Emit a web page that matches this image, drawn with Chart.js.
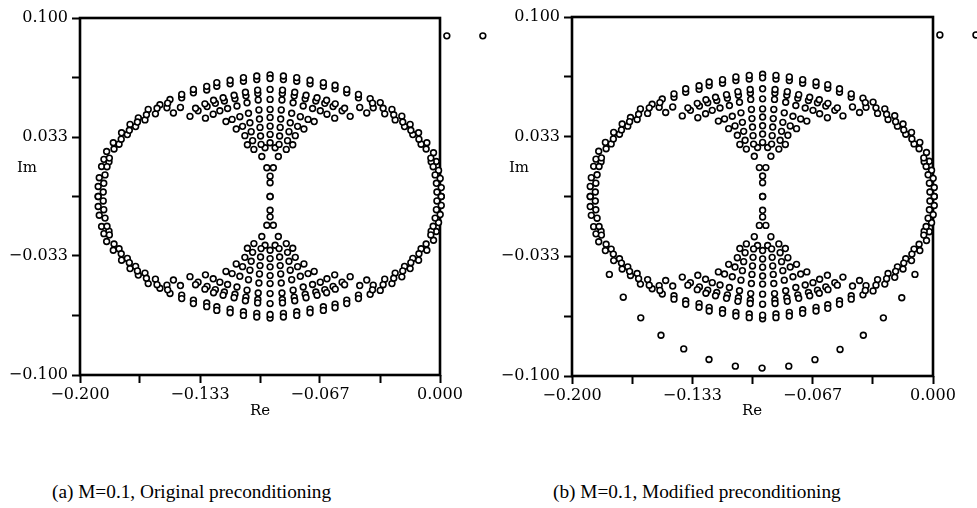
<!DOCTYPE html>
<html>
<head>
<meta charset="utf-8">
<script src="https://cdn.jsdelivr.net/npm/chart.js@4.4.1/dist/chart.umd.min.js"></script>
<style>
  html, body { margin: 0; padding: 0; background: #fff; }
  body { position: relative; width: 977px; height: 508px; overflow: hidden; font-family: "Liberation Serif", "DejaVu Serif", serif; }
  canvas { position: absolute; top: 0; }
  #plotA { left: 0; }
  #plotB { left: 490px; }
  .cap { position: absolute; top: 481px; font-size: 19.3px; line-height: 22px; color: #000; white-space: nowrap; }
</style>
</head>
<body>
<canvas id="plotA" width="490" height="440"></canvas>
<canvas id="plotB" width="487" height="440"></canvas>
<div class="cap" style="left:52px">(a) M=0.1, Original preconditioning</div>
<div class="cap" style="left:553px">(b) M=0.1, Modified preconditioning</div>
<script>
// Eigenvalues in the upper half-plane (Re, Im); each one appears with its
// complex conjugate, so the lower half is drawn from the same list.
const eigRe = [
  // central column and neck
  -0.0944,-0.0944,-0.0944,-0.0944,-0.0944,-0.0944,-0.0944,-0.0944,-0.0944,-0.0944,-0.0944,
  -0.0916,-0.0972,-0.0926,-0.0962,
  // close pairs on the outer arc
  -0.0944,-0.0870,-0.0796,-0.0722,-0.0648,-0.0583,-0.0518,-0.0453,-0.1018,-0.1092,-0.1166,-0.1240,-0.1296,-0.1370,-0.1435,
  // close pairs on the second arc
  -0.0876,-0.0810,-0.0749,-0.0690,-0.0640,-0.0594,-0.0544,-0.1012,-0.1078,-0.1139,-0.1198,-0.1248,-0.1294,-0.1344,
  // right-hand branches
  -0.0870,-0.0875,-0.0878,-0.0882,-0.0885,-0.0888,-0.0891,-0.0894,-0.0898,
  -0.0796,-0.0807,-0.0816,-0.0824,-0.0832,-0.0839,-0.0847,-0.0854,
  -0.0722,-0.0744,-0.0760,-0.0776,-0.0791,-0.0804,-0.0818,
  -0.0648,-0.0683,-0.0708,-0.0733,-0.0756,
  -0.0583,-0.0630,-0.0665,-0.0699,
  -0.0518,-0.0582,-0.0628,
  -0.0453,-0.0530,-0.0585,
  -0.0388,-0.0446,-0.0499,
  -0.0332,-0.0371,-0.0407,
  -0.0267,-0.0307,-0.0212,-0.0249,-0.0166,-0.0197,-0.0119,-0.0151,-0.0073,-0.0105,
  -0.0036,-0.0021,-0.0049,-0.0008,0.0001,0.0007,0.0007,
  // right-hand side of the outer ring, inner track
  -0.0375,-0.0316,-0.0257,-0.0207,-0.0162,-0.0117,-0.0077,-0.0051,-0.0038,-0.0027,-0.0020,-0.0017,
  // left-hand branches
  -0.1018,-0.1013,-0.1010,-0.1006,-0.1003,-0.1000,-0.0997,-0.0994,-0.0990,
  -0.1092,-0.1081,-0.1072,-0.1064,-0.1056,-0.1049,-0.1041,-0.1034,
  -0.1166,-0.1144,-0.1128,-0.1112,-0.1097,-0.1084,-0.1070,
  -0.1240,-0.1205,-0.1180,-0.1155,-0.1132,
  -0.1296,-0.1258,-0.1223,-0.1189,
  -0.1370,-0.1306,-0.1260,
  -0.1435,-0.1358,-0.1303,
  -0.1500,-0.1442,-0.1389,
  -0.1556,-0.1517,-0.1481,
  -0.1621,-0.1581,-0.1676,-0.1639,-0.1722,-0.1691,-0.1769,-0.1737,-0.1815,-0.1783,
  -0.1852,-0.1867,-0.1839,-0.1880,-0.1893,-0.1899,-0.1899,
  // left-hand side of the outer ring, inner track
  -0.1513,-0.1572,-0.1631,-0.1681,-0.1726,-0.1771,-0.1811,-0.1837,-0.1850,-0.1861,-0.1868,-0.1871
];
const eigIm = [
  0.0681,0.0600,0.0544,0.0488,0.0443,0.0394,0.0348,0.0301,0.0114,0.0077,0.0000,
  0.0273,0.0273,0.0161,0.0161,
  0.0661,0.0655,0.0646,0.0631,0.0618,0.0603,0.0581,0.0553,0.0655,0.0646,0.0631,0.0618,0.0597,0.0581,0.0553,
  0.0577,0.0564,0.0548,0.0535,0.0522,0.0504,0.0480,0.0577,0.0564,0.0548,0.0535,0.0522,0.0504,0.0480,
  0.0675,0.0596,0.0541,0.0485,0.0434,0.0387,0.0339,0.0292,0.0224,
  0.0666,0.0584,0.0525,0.0466,0.0413,0.0363,0.0313,0.0264,
  0.0651,0.0567,0.0507,0.0447,0.0393,0.0341,0.0290,
  0.0638,0.0553,0.0493,0.0432,0.0378,
  0.0623,0.0539,0.0480,0.0420,
  0.0600,0.0519,0.0461,
  0.0572,0.0494,0.0439,
  0.0548,0.0499,0.0449,
  0.0526,0.0497,0.0468,
  0.0488,0.0463,0.0450,0.0429,0.0404,0.0392,0.0357,0.0347,0.0301,0.0293,
  0.0245,0.0196,0.0194,0.0146,0.0101,0.0050,0.0000,
  0.0523,0.0494,0.0458,0.0417,0.0371,0.0321,0.0266,0.0215,0.0167,0.0121,0.0074,0.0025,
  0.0675,0.0596,0.0541,0.0485,0.0434,0.0387,0.0339,0.0292,0.0224,
  0.0666,0.0584,0.0525,0.0466,0.0413,0.0363,0.0313,0.0264,
  0.0651,0.0567,0.0507,0.0447,0.0393,0.0341,0.0290,
  0.0638,0.0553,0.0493,0.0432,0.0378,
  0.0617,0.0539,0.0480,0.0420,
  0.0600,0.0519,0.0461,
  0.0572,0.0494,0.0439,
  0.0543,0.0499,0.0449,
  0.0514,0.0497,0.0468,
  0.0488,0.0463,0.0440,0.0429,0.0404,0.0392,0.0357,0.0347,0.0301,0.0293,
  0.0252,0.0208,0.0194,0.0168,0.0105,0.0056,0.0000,
  0.0523,0.0494,0.0458,0.0417,0.0371,0.0321,0.0266,0.0215,0.0167,0.0121,0.0074,0.0025
];

// Two eigenvalues lying beyond the right edge of both plots
const farRe = [0.0038, 0.0238];
const farIm = [0.0900, 0.0900];

// Additional eigenvalues produced by the modified preconditioning (plot b)
const extraRe = [-0.1793,-0.1716,-0.1619,-0.1507,-0.1381,-0.1241,-0.1095,-0.0947,-0.0799,-0.0654,-0.0515,-0.0386,-0.0275,-0.0173,-0.0100];
const extraIm = [-0.0434,-0.0561,-0.0676,-0.0773,-0.0849,-0.0908,-0.0945,-0.0956,-0.0945,-0.0909,-0.0852,-0.0773,-0.0676,-0.0564,-0.0434];

// Axis ticks (every 1/30) and the labels printed on every other one
const xTickValues = [-0.2, -0.166667, -0.133333, -0.1, -0.066667, -0.033333, 0];
const xTickLabels = ['\u22120.200', '', '\u22120.133', '', '\u22120.067', '', '0.000'];
const yTickValues = [-0.1, -0.066667, -0.033333, 0, 0.033333, 0.066667, 0.1];
const yTickLabels = ['\u22120.100', '', '\u22120.033', '', '0.033', '', '0.100'];

const SERIF = '"DejaVu Serif", "Liberation Serif", serif';

const pairs = (re, im, sign) => re.map((x, i) => ({ x: x, y: sign * im[i] }));

function pointSet(data) {
  return {
    data: data,
    showLine: false,
    clip: false,
    pointStyle: 'circle',
    pointRadius: 2.9,
    pointHoverRadius: 2.9,
    pointBorderWidth: 1.6,
    pointBorderColor: '#000',
    pointBackgroundColor: '#fff'
  };
}

// Plot frame, points placed outside the frame, and the "Im" / "Re" captions
const framePlugin = {
  id: 'frame',
  beforeDatasetsDraw(chart) {
    const { ctx, chartArea: a } = chart;
    ctx.save();
    ctx.strokeStyle = '#000';
    ctx.lineWidth = 2.6;
    ctx.strokeRect(a.left, a.top, a.right - a.left, a.bottom - a.top);
    ctx.restore();
  },
  afterDatasetsDraw(chart, args, opts) {
    // the library skips points beyond the chart area, so draw these elements here
    const meta = chart.getDatasetMeta(opts.outsideIndex);
    meta.data.forEach(p => p.draw(chart.ctx));
  },
  afterDraw(chart, args, opts) {
    const ctx = chart.ctx;
    ctx.save();
    ctx.fillStyle = '#000';
    ctx.font = '15px ' + SERIF;
    ctx.textAlign = 'center';
    ctx.textBaseline = 'middle';
    ctx.fillText('Im', opts.imX, opts.imY);
    ctx.fillText('Re', opts.reX, opts.reY);
    ctx.restore();
  }
};

function makePlot(id, datasets, g) {
  return new Chart(document.getElementById(id), {
    type: 'scatter',
    data: { datasets: datasets },
    plugins: [framePlugin],
    options: {
      responsive: false,
      devicePixelRatio: 1,
      animation: false,
      events: [],
      layout: { padding: { top: g.top, right: g.right, left: 0, bottom: 0 } },
      plugins: {
        legend: { display: false },
        tooltip: { enabled: false },
        frame: { imX: g.imX, imY: 168, reX: g.reX, reY: 411, outsideIndex: 2 }
      },
      scales: {
        x: {
          type: 'linear', min: -0.2, max: 0,
          afterBuildTicks: s => { s.ticks = xTickValues.map(v => ({ value: v })); },
          afterFit: s => { s.height = g.xh; },
          ticks: {
            callback: (v, i) => xTickLabels[i],
            color: '#000', font: { family: SERIF, size: 16 },
            padding: 2, maxRotation: 0, autoSkip: false
          },
          grid: { drawOnChartArea: false, tickLength: 8, tickColor: '#000', tickWidth: 2 },
          border: { display: false }
        },
        y: {
          type: 'linear', min: -0.1, max: 0.1,
          afterBuildTicks: s => { s.ticks = yTickValues.map(v => ({ value: v })); },
          afterFit: s => { s.width = g.yw; },
          ticks: {
            callback: (v, i) => yTickLabels[i],
            color: '#000', font: { family: SERIF, size: 16 },
            padding: 4, autoSkip: false
          },
          grid: { drawOnChartArea: false, tickLength: 8, tickColor: '#000', tickWidth: 2 },
          border: { display: false }
        }
      }
    }
  });
}

const upperSet = pairs(eigRe, eigIm, 1);
const lowerSet = pairs(eigRe, eigIm, -1);
const farSet = pairs(farRe, farIm, 1);
const extraSet = pairs(extraRe, extraIm, 1);

makePlot('plotA',
  [pointSet(upperSet), pointSet(lowerSet), pointSet(farSet)],
  { top: 18, right: 50, yw: 80, xh: 65, imX: 27, reX: 260 });

makePlot('plotB',
  [pointSet(upperSet), pointSet(lowerSet), pointSet(farSet), pointSet(extraSet)],
  { top: 17, right: 44, yw: 82, xh: 64, imX: 29, reX: 262 });
</script>
</body>
</html>
